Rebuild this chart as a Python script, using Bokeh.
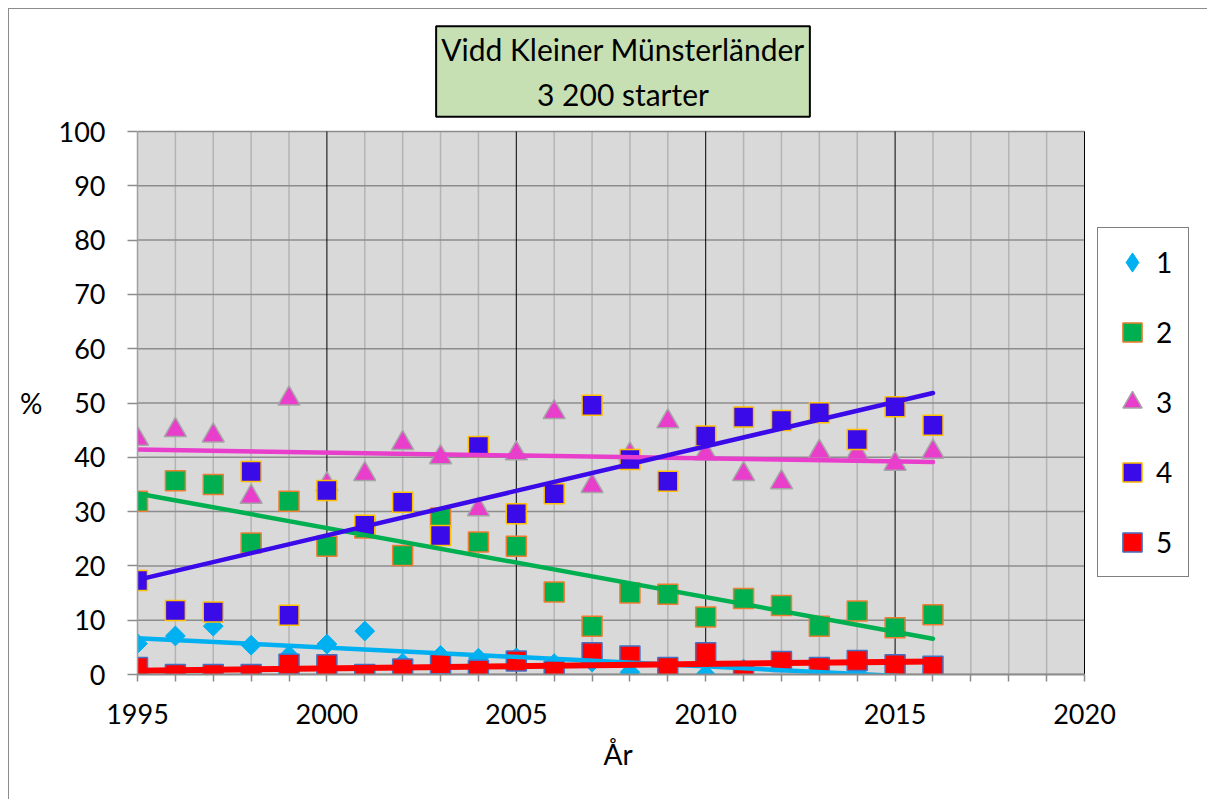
import numpy as np
from bokeh.plotting import figure
from bokeh.models import (Range1d, SingleIntervalTicker, FixedTicker, Legend, LegendItem,
                          ColumnDataSource, Label, LinearAxis, Title)
from bokeh.embed import file_html
from bokeh.resources import INLINE

# ---------------- data ----------------
years = list(range(1995, 2017))
s1 = [5.7, 7.1, 8.9, 5.4, 3.5, 5.6, 8.0, 2.1, 3.5, 3.0, 3.1,
      2.0, 2.3, 0.4, 0.9, 0.0, 1.0, 2.5, 0.2, 0.8, 0.8, 0.2]
s2 = [31.9, 35.7, 35.0, 24.2, 31.9, 23.6, 27.0, 21.9, 28.8, 24.4, 23.6,
      15.2, 8.9, 15.0, 14.8, 10.6, 14.0, 12.7, 8.9, 11.7, 8.6, 11.0]
s3 = [43.4, 45.0, 44.0, 32.7, 50.8, 35.0, 36.9, 42.6, 40.0, 30.4, 40.7,
      48.3, 34.7, 40.5, 46.6, 40.7, 36.9, 35.4, 41.0, 40.8, 38.8, 41.0]
s4 = [17.3, 11.8, 11.5, 37.4, 10.9, 33.9, 27.5, 31.7, 25.6, 42.0, 29.6,
      33.3, 49.6, 39.6, 35.6, 43.9, 47.4, 46.8, 48.2, 43.3, 49.3, 45.9]
s5 = [1.3, 0.0, 0.0, 0.0, 1.9, 1.8, 0.0, 1.0, 2.0, 0.8, 2.5,
      0.6, 4.0, 3.4, 1.3, 4.0, 0.2, 2.4, 1.3, 2.6, 1.8, 1.5]
series_names = ["1", "2", "3", "4", "5"]
title_text = "Vidd Kleiner Münsterländer\n3 200 starter"
x_label = "År"
y_label = "%"

# axis layout
X_MIN, X_MAX = 1995, 2020          # plotted x span
Y_MIN, Y_MAX = 0, 100              # plotted y span
major_x = [y for y in range(X_MIN, X_MAX + 1) if y % 5 == 0]
minor_x = [y for y in range(X_MIN, X_MAX + 1) if y % 5 != 0]
grid_y = list(range(Y_MIN, Y_MAX + 1, 10))

# ---------------- styles / geometry ----------------
FONT = "Lato"
fills = ["#00b0f0", "#00b050", "#e83ecb", "#3a0ae8", "#ff0000"]
edges = ["#00b0f0", "#ed7d31", "#a5a5a5", "#ffc000", "#4472c4"]
trend_widths = [4.5, 4.5, 4.5, 4.5, 6]

W, H = 1199, 791
LEFT, BOTTOM = 128, 126
px_per_x = 947 / (X_MAX - X_MIN)
px_per_y = 543 / (Y_MAX - Y_MIN)
x_end = X_MIN + (W - LEFT) / px_per_x
y_end = Y_MIN + (H - BOTTOM) / px_per_y

p = figure(width=W, height=H,
           x_range=Range1d(X_MIN, x_end), y_range=Range1d(Y_MIN, y_end),
           output_backend="svg", toolbar_location=None,
           min_border=0, min_border_left=LEFT, min_border_right=0,
           min_border_top=0, min_border_bottom=BOTTOM)
p.styles = {"margin-left": "8px", "margin-top": "8px",
            "border-top": "1px solid #8c8c8c", "border-left": "1px solid #8c8c8c"}
p.background_fill_color = "white"
p.border_fill_color = "white"
p.outline_line_color = None
p.xgrid.visible = False
p.ygrid.visible = False

# plotting area background and grid lines
p.quad(left=X_MIN, right=X_MAX, bottom=Y_MIN, top=Y_MAX, fill_color="#d9d9d9",
       line_color=None, level="image")
p.segment(x0=minor_x, y0=Y_MIN, x1=minor_x, y1=Y_MAX, line_color="#b4b4b4",
          line_width=1.5, level="underlay")
p.segment(x0=X_MIN, y0=grid_y, x1=X_MAX, y1=grid_y, line_color="#8c8c8c",
          line_width=1.5, level="underlay")
p.segment(x0=[x for x in major_x if x != X_MIN], y0=Y_MIN,
          x1=[x for x in major_x if x != X_MIN], y1=Y_MAX,
          line_color="black", line_width=1, level="underlay")

# axes
p.xaxis.ticker = FixedTicker(ticks=major_x, minor_ticks=minor_x)
p.xaxis.bounds = (X_MIN, X_MAX)
p.xaxis.major_tick_out = 7
p.xaxis.minor_tick_out = 7
p.xaxis.major_tick_in = 0
p.xaxis.minor_tick_in = 0
p.xaxis.major_tick_line_color = "#8c8c8c"
p.xaxis.minor_tick_line_color = "#8c8c8c"
p.xaxis.major_tick_line_width = 1.5
p.xaxis.minor_tick_line_width = 1.5
p.xaxis.axis_line_color = "#8c8c8c"
p.xaxis.axis_line_width = 2
p.xaxis.major_label_standoff = 22

p.yaxis.ticker = SingleIntervalTicker(interval=10, num_minor_ticks=0)
p.yaxis.bounds = (Y_MIN, Y_MAX)
p.yaxis.major_tick_out = 10
p.yaxis.major_tick_in = 0
p.yaxis.minor_tick_line_color = None
p.yaxis.major_tick_line_color = "#8c8c8c"
p.yaxis.major_tick_line_width = 1.5
p.yaxis.axis_line_color = "#a0a0a0"
p.yaxis.axis_line_width = 1.5
p.yaxis.major_label_standoff = 22

for ax in (p.xaxis, p.yaxis):
    ax.major_label_text_font = FONT
    ax.major_label_text_font_size = "27px"
    ax.major_label_text_color = "black"

# "%" as the label of a second, bare left axis next to the 50 mark
y_name_axis = LinearAxis(ticker=FixedTicker(ticks=[50]), major_label_overrides={50: y_label},
                         axis_line_color=None, major_tick_line_color=None,
                         minor_tick_line_color=None, major_tick_out=0, major_tick_in=0,
                         major_label_standoff=13, major_label_text_font=FONT,
                         major_label_text_font_size="28px", major_label_text_color="black")
p.add_layout(y_name_axis, "left")

# "År" below the x axis
p.add_layout(Title(text=x_label, align="left", offset=466, standoff=16,
                   text_font=FONT, text_font_size="28px", text_font_style="normal",
                   text_color="black"), "below")

# markers
all_series = [s1, s2, s3, s4, s5]
sources = [ColumnDataSource(dict(x=years, y=s)) for s in all_series]
r1 = p.scatter("x", "y", source=sources[0], marker="square", angle=np.pi / 4, size=14,
               fill_color=fills[0], line_color=edges[0], line_width=1)
r1_legend = p.scatter("x", "y", source=sources[0], marker="diamond", size=20,
                      fill_color=fills[0], line_color=edges[0], line_width=1, visible=False)
r2 = p.scatter("x", "y", source=sources[1], marker="square", size=20,
               fill_color=fills[1], line_color=edges[1], line_width=1.5)
r3 = p.scatter("x", "y", source=sources[2], marker="triangle", size=22,
               fill_color=fills[2], line_color=edges[2], line_width=1.5)
r4 = p.scatter("x", "y", source=sources[3], marker="square", size=20,
               fill_color=fills[3], line_color=edges[3], line_width=1.5)
r5 = p.scatter("x", "y", source=sources[4], marker="square", size=20,
               fill_color=fills[4], line_color=edges[4], line_width=1.5)

# linear trend lines (least squares fit of each series)
xs = np.array(years, dtype=float)
for vals, col, lw in zip(all_series, fills, trend_widths):
    m, b = np.polyfit(xs, np.array(vals, dtype=float), 1)
    ends = np.array([xs[0], xs[-1]])
    p.line(ends, m * ends + b, line_color=col, line_width=lw, line_cap="round")

# legend, right of the plotting area
legend = Legend(items=[LegendItem(label=series_names[0], renderers=[r1_legend]),
                       LegendItem(label=series_names[1], renderers=[r2]),
                       LegendItem(label=series_names[2], renderers=[r3]),
                       LegendItem(label=series_names[3], renderers=[r4]),
                       LegendItem(label=series_names[4], renderers=[r5])],
                location=(960, 97), orientation="vertical",
                glyph_width=48, glyph_height=48, spacing=22, padding=10,
                label_standoff=0, label_width=22, label_height=48,
                border_line_color="black", border_line_width=1.5,
                background_fill_color="white", background_fill_alpha=1,
                label_text_font=FONT, label_text_font_size="28px", label_text_color="black")
p.add_layout(legend)

# title box
p.add_layout(Label(x=X_MIN + (622.5 - 137) / px_per_x, y=Y_MIN + (674 - 71) / px_per_y,
                   text=title_text, text_align="center", text_baseline="middle",
                   text_font=FONT, text_font_size="30px", text_line_height=1.23,
                   text_color="black", background_fill_color="#c6e0b4",
                   border_line_color="black", border_line_width=2, padding=5))

open("out.html", "w").write(file_html(p, INLINE))
